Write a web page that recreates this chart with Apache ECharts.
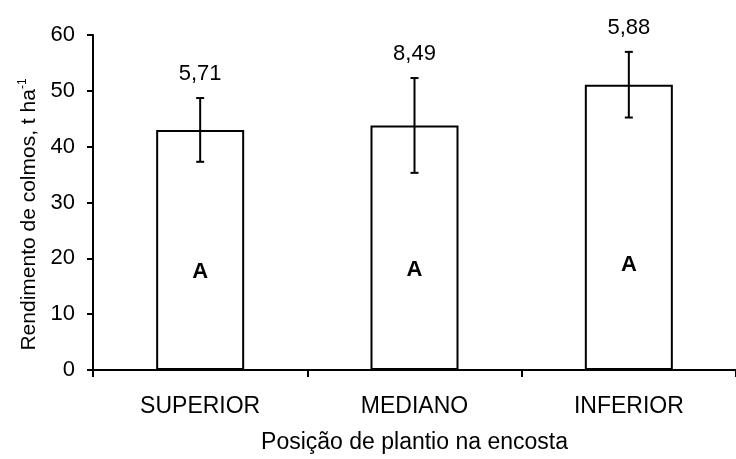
<!DOCTYPE html>
<html>
<head>
<meta charset="utf-8">
<script src="https://cdn.jsdelivr.net/npm/echarts@6/dist/echarts.min.js"></script>
<style>html,body{margin:0;padding:0;background:#fff;}#c{width:736px;height:459px;}</style>
</head>
<body>
<div id="c"></div>
<script>
const categories = ['SUPERIOR', 'MEDIANO', 'INFERIOR'];
const means = [43.0, 43.8, 51.1];
const sds = [5.71, 8.49, 5.88];
const sdLabels = ['5,71', '8,49', '5,88'];
const letters = ['A', 'A', 'A'];
const letterY = [17.6, 17.9, 18.8];
const yTicks = [0, 10, 20, 30, 40, 50, 60];

const FONT = '"Liberation Sans", Arial, Helvetica, sans-serif';
const chart = echarts.init(document.getElementById('c'), null, {renderer: 'canvas'});

const errData = means.map((m, i) => [i, m - sds[i], m + sds[i], i]);
const letterData = letterY.map((v, i) => [i, v, i]);

chart.setOption({
  animation: false,
  backgroundColor: '#fff',
  grid: {left: 93, top: 35, width: 654, height: 342, containLabel: false},
  xAxis: {
    type: 'category',
    data: categories,
    boundaryGap: true,
    name: 'Posição de plantio na encosta',
    nameLocation: 'middle',
    nameGap: 61,
    nameTextStyle: {fontFamily: FONT, fontSize: 23, color: '#000'},
    axisLine: {lineStyle: {color: '#000', width: 2}},
    axisTick: {show: true, alignWithLabel: false, length: 7, lineStyle: {color: '#000', width: 2}},
    axisLabel: {fontFamily: FONT, fontSize: 23, color: '#000', margin: 25},
    splitLine: {show: false}
  },
  yAxis: {
    type: 'value',
    min: yTicks[0],
    max: yTicks[yTicks.length - 1],
    interval: 10,
    name: '{a|Rendimento de colmos, t ha}{s|-1}',
    nameLocation: 'middle',
    nameRotate: 90,
    nameGap: 49,
    nameTextStyle: {
      padding: [0, 24, 0, 0],
      rich: {
        a: {fontFamily: FONT, fontSize: 21, color: '#000'},
        s: {fontFamily: FONT, fontSize: 12, color: '#000', verticalAlign: 'top', padding: [0, 0, 12, 0]}
      }
    },
    axisLine: {show: true, lineStyle: {color: '#000', width: 2}},
    axisTick: {show: true, length: 6, lineStyle: {color: '#000', width: 2}},
    axisLabel: {fontFamily: FONT, fontSize: 22, color: '#000', margin: 18},
    splitLine: {show: false}
  },
  series: [
    {
      type: 'bar',
      data: means,
      barWidth: 88,
      itemStyle: {color: '#fff', borderColor: '#000', borderWidth: 2},
      z: 2
    },
    {
      type: 'custom',
      data: letterData,
      z: 3,
      renderItem: function (params, api) {
        const p = api.coord([api.value(0), api.value(1)]);
        return {
          type: 'text',
          style: {
            text: letters[api.value(2)], x: p[0], y: p[1],
            align: 'center', verticalAlign: 'middle',
            fontFamily: FONT, fontSize: 22, fontWeight: 'bold', fill: '#000'
          }
        };
      }
    },
    {
      type: 'custom',
      data: errData,
      z: 4,
      renderItem: function (params, api) {
        const x = api.value(0);
        const top = api.coord([x, api.value(2)]);
        const bot = api.coord([x, api.value(1)]);
        const hw = 4;
        const st = {stroke: '#000', lineWidth: 2};
        return {
          type: 'group',
          children: [
            {type: 'line', shape: {x1: top[0], y1: top[1], x2: bot[0], y2: bot[1]}, style: st},
            {type: 'line', shape: {x1: top[0] - hw, y1: top[1], x2: top[0] + hw, y2: top[1]}, style: st},
            {type: 'line', shape: {x1: bot[0] - hw, y1: bot[1], x2: bot[0] + hw, y2: bot[1]}, style: st},
            {type: 'text', style: {
              text: sdLabels[api.value(3)], x: top[0], y: top[1] - 24,
              align: 'center', verticalAlign: 'middle',
              fontFamily: FONT, fontSize: 22, fill: '#000'
            }}
          ]
        };
      }
    }
  ]
});
</script>
</body>
</html>
